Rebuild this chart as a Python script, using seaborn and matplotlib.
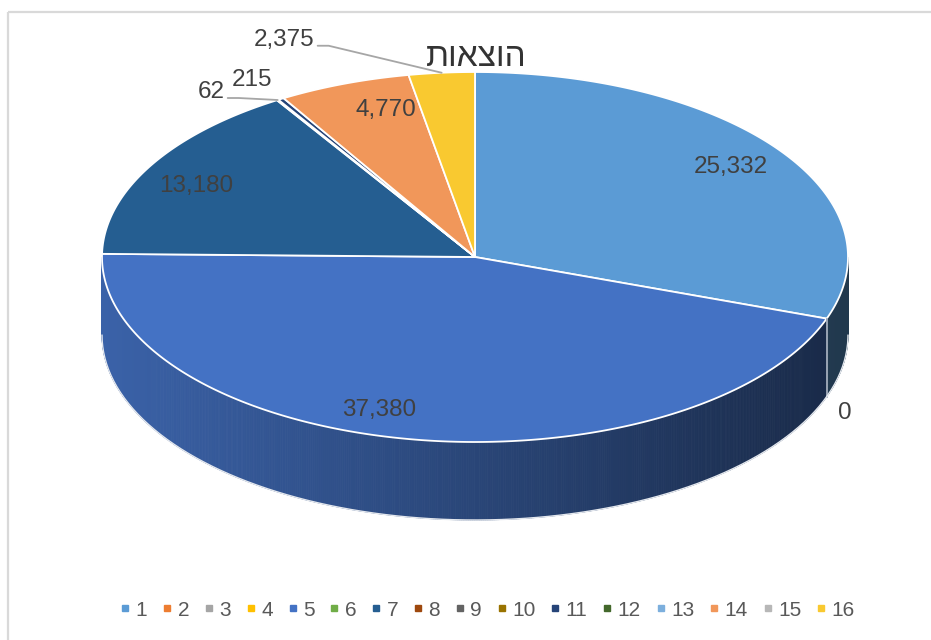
import numpy as np
import matplotlib
matplotlib.use("Agg")
import matplotlib.pyplot as plt
from matplotlib.patches import Polygon, Rectangle
from matplotlib.lines import Line2D
import matplotlib.colors as mcolors
import seaborn as sns

# chart data
title = "הוצאות"
categories = [str(i) for i in range(1, 17)]
values = [25332, 0, np.nan, np.nan, 37380, np.nan, 13180, np.nan,
          62, np.nan, 215, np.nan, np.nan, 4770, np.nan, 2375]
palette_hex = ["#5B9BD5", "#ED7D31", "#A5A5A5", "#FFC000", "#4472C4", "#70AD47",
               "#255E91", "#9E480E", "#636363", "#997300", "#264478", "#43682B",
               "#7CAFDD", "#F1975A", "#B7B7B7", "#F9C930"]

sns.set_theme(style="white")
plt.rcParams['font.family'] = ['Liberation Sans', 'DejaVu Sans']
colors = sns.color_palette(palette_hex)

# geometry of the 3d pie (in pixel units of the figure)
cx, cy, a, b, depth = 475, 257, 373, 185, 78
label_r = 0.84
text_color = "#404040"


def pt(t):
    t = np.radians(t)
    return cx + a * np.cos(t), cy - b * np.sin(t)


fig = plt.figure(figsize=(9.31, 6.40), dpi=100)
ax = fig.add_axes([0, 0, 1, 1])
ax.set_xlim(0, 931)
ax.set_ylim(640, 0)
ax.axis('off')

ax.add_patch(Rectangle((8, 12), 960, 660, fill=False, edgecolor="#d9d9d9", lw=1.6))

vals = np.array(values, dtype=float)
total = np.nansum(vals)
cum = 0.0
slices = []
for i, v in enumerate(vals):
    if np.isnan(v):
        continue
    t1 = 90 - 360 * cum / total
    t2 = t1 - 360 * v / total
    cum += v
    slices.append((i, v, t1, t2))

# sides (front half only), horizontal lighting gradient
for i, v, t1, t2 in slices:
    lo, hi = max(t2, -180), min(t1, 0)
    if hi <= lo:
        continue
    base = np.array(mcolors.to_rgb(colors[i]))
    ts = np.linspace(lo, hi, max(2, int((hi - lo) * 3)))
    for s0, s1 in zip(ts[:-1], ts[1:]):
        x0, y0 = pt(s0)
        x1, y1 = pt(s1)
        f = 0.86 - 0.5 * ((x0 + x1) / 2 - (cx - a)) / (2 * a)
        c = np.clip(base * f, 0, 1)
        ax.add_patch(Polygon([(x0, y0), (x1, y1), (x1, y1 + depth), (x0, y0 + depth)],
                             closed=True, facecolor=c, edgecolor=c, lw=0.6))
    # boundary edge of the side
    for s in (lo, hi):
        if -180 < s < 0:
            x, y = pt(s)
            ax.plot([x, x], [y, y + depth], color="#9aa5b5", lw=1.2)

# bottom rim
tb = np.linspace(-180, 0, 200)
bx, by = pt(tb)
ax.plot(bx, by + depth, color="#e4e8ee", lw=1.0)

# top face
for i, v, t1, t2 in slices:
    if v <= 0:
        continue
    ts = np.linspace(t1, t2, max(3, int(abs(t1 - t2) * 2)))
    xs, ys = pt(ts)
    verts = [(cx, cy)] + list(zip(xs, ys))
    ax.add_patch(Polygon(verts, closed=True, facecolor=colors[i], edgecolor="white",
                         lw=1.3, joinstyle='round'))

# data labels
inside_nudge = {0: (0, 0), 4: (-40, 0), 6: (-6, 5), 13: (21, -2)}
outside = {1: (25, 94, False), 8: (-53, -8, True), 10: (-9, -19, False), 15: (-127, -33, True)}
for i, v, t1, t2 in slices:
    txt = f"{int(v):,}"
    mid = (t1 + t2) / 2
    if i in outside:
        ax_, ay_ = pt(mid)
        dx, dy, leader = outside[i]
        tx, ty = ax_ + dx, ay_ + dy
        ax.text(tx, ty, txt, ha='right', va='center', fontsize=17.5, color=text_color)
        if leader:
            ax.plot([tx + 3, tx + 14, ax_], [ty + 6, ty + 6, ay_], color="#a6a6a6", lw=1.3)
    else:
        t = np.radians(mid)
        x = cx + label_r * a * np.cos(t)
        y = cy - label_r * b * np.sin(t)
        dx, dy = inside_nudge.get(i, (0, 0))
        ax.text(x + dx, y + dy, txt, ha='center', va='center', fontsize=17.5, color=text_color)

# title (Hebrew, drawn right-to-left)
ax.text(476, 58, title[::-1], ha='center', va='center', fontsize=24, color="#333333")

# legend
handles = [Line2D([], [], marker='s', linestyle='none', color=colors[k], markersize=4.5)
           for k in range(len(categories))]
ax.legend(handles, categories, loc='center', bbox_to_anchor=(488 / 931, 1 - 610 / 640),
          ncol=16, frameon=False, handlelength=0.4, handletextpad=0.3, columnspacing=0.75,
          labelcolor="#595959",
          prop={'family': ['Liberation Sans Narrow', 'Liberation Sans'], 'size': 15})

plt.savefig("out.png", dpi=100)
